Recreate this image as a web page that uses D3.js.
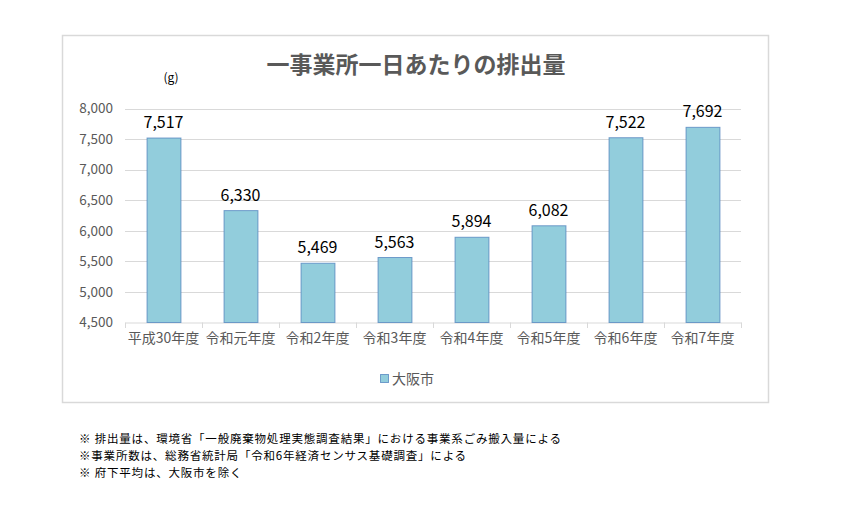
<!DOCTYPE html>
<html><head><meta charset="utf-8">
<script src="https://cdn.jsdelivr.net/npm/d3@7"></script>
<style>body{margin:0;background:#fff;} text{font-family:"Noto Sans CJK JP","Noto Sans",sans-serif;}</style>
</head><body>
<svg id="c" width="859" height="506"></svg>
<script>
const categories = ["平成30年度","令和元年度","令和2年度","令和3年度","令和4年度","令和5年度","令和6年度","令和7年度"];
const values = [7517, 6330, 5469, 5563, 5894, 6082, 7522, 7692];
const yTicks = [4500, 5000, 5500, 6000, 6500, 7000, 7500, 8000];
const seriesName = "大阪市";
const title = "一事業所一日あたりの排出量";
const unit = "(g)";
const notes = [
  "※ 排出量は、環境省「一般廃棄物処理実態調査結果」における事業系ごみ搬入量による",
  "※事業所数は、総務省統計局「令和6年経済センサス基礎調査」による",
  "※ 府下平均は、大阪市を除く"
];

const svg = d3.select("#c");
// chart frame
svg.append("rect").attr("x",62.5).attr("y",35.5).attr("width",706).attr("height",367)
  .attr("fill","#fff").attr("stroke","#d9d9d9").attr("stroke-width",1.5);

const x = d3.scaleBand().domain(categories).range([125,741]).paddingInner(0.56).paddingOuter(0.28);
const y = d3.scaleLinear().domain([4500,8000]).range([322.5,108.5]);

// gridlines
svg.append("g").selectAll("line").data(yTicks.slice(1)).join("line")
  .attr("x1",125).attr("x2",741).attr("y1",d=>Math.round(y(d))+0.5).attr("y2",d=>Math.round(y(d))+0.5)
  .attr("stroke","#d9d9d9").attr("stroke-width",1);

// y axis labels
const ya = svg.append("g").attr("transform","translate(125,0)")
  .call(d3.axisLeft(y).tickValues(yTicks).tickFormat(d3.format(",")).tickSize(0).tickPadding(12));
ya.select(".domain").remove();
ya.selectAll("text").attr("font-size",13.5).attr("fill","#595959").style("font-family","'Noto Sans CJK JP',sans-serif");

// x axis
const xa = svg.append("g").attr("transform","translate(0,322.5)")
  .call(d3.axisBottom(x).tickSize(0).tickPadding(11));
xa.select(".domain").attr("stroke","#d9d9d9");
xa.selectAll("text").attr("font-size",14).attr("fill","#595959").style("font-family","'Noto Sans CJK JP',sans-serif");
// tick marks between categories
const bounds = d3.range(categories.length+1).map(i=>125 + i*(616/categories.length));
svg.append("g").selectAll("line").data(bounds).join("line")
  .attr("x1",d=>Math.round(d)+0.5).attr("x2",d=>Math.round(d)+0.5).attr("y1",322.5).attr("y2",328)
  .attr("stroke","#d9d9d9");

// bars
svg.append("g").selectAll("rect").data(values).join("rect")
  .attr("x",(d,i)=>x(categories[i])+0.5).attr("width",x.bandwidth())
  .attr("y",d=>y(d)).attr("height",d=>y(4500)-y(d))
  .attr("fill","#92cddc").attr("stroke","#4f81bd").attr("stroke-opacity",0.75).attr("stroke-width",1);

// data labels
svg.append("g").selectAll("text").data(values).join("text")
  .attr("x",(d,i)=>x(categories[i])+x.bandwidth()/2).attr("y",d=>y(d)-10)
  .attr("text-anchor","middle").attr("font-size",16).attr("fill","#000")
  .text(d=>d3.format(",")(d));

// title
svg.append("text").attr("x",416).attr("y",73).attr("text-anchor","middle")
  .attr("font-size",23).attr("font-weight","bold").attr("fill","#595959").text(title);
// unit
svg.append("text").attr("x",171).attr("y",82).attr("text-anchor","middle")
  .attr("font-size",12).attr("fill","#000").text(unit);

// legend
svg.append("rect").attr("x",380.5).attr("y",374.5).attr("width",8).attr("height",8)
  .attr("fill","#92cddc").attr("stroke","#4f81bd").attr("stroke-opacity",0.75);
svg.append("text").attr("x",392).attr("y",384).attr("font-size",14).attr("fill","#595959").text(seriesName);

// notes
svg.append("g").selectAll("text").data(notes).join("text")
  .attr("x",79).attr("y",(d,i)=>443+i*17).attr("font-size",11.5).attr("letter-spacing",0.8)
  .attr("fill","#000").text(d=>d);
</script>
</body></html>
